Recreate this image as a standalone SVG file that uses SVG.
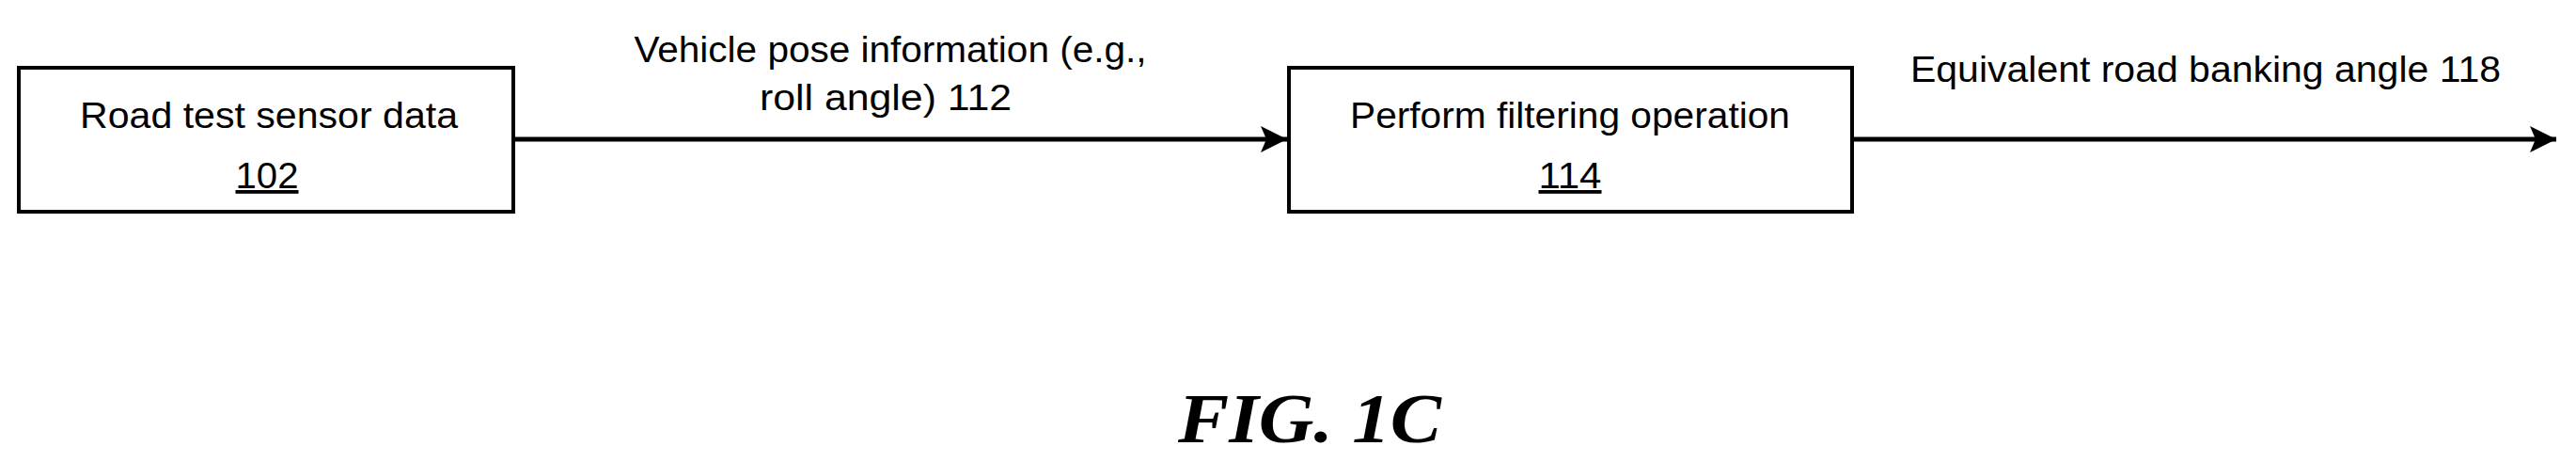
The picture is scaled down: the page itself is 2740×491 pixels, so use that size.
<svg xmlns="http://www.w3.org/2000/svg" width="2740" height="491" viewBox="0 0 2740 491">
<style>
.box{fill:#fff;stroke:#000;stroke-width:4}
.t{font-family:"Liberation Sans Narrow","Liberation Sans",Arial,sans-serif;font-size:38px;fill:#000}
.c{stroke:#000;stroke-width:5;fill:none}
</style>
<defs><marker id="ah" markerUnits="userSpaceOnUse" markerWidth="30" markerHeight="30" refX="28" refY="14" orient="auto"><path d="M0,0 L28,14 L0,28 L6,14 Z" fill="#000"/></marker></defs>
<rect width="2740" height="491" fill="#fff"/>
<g id="connectors">
<line class="c" x1="546" y1="148" x2="1369" y2="148" marker-end="url(#ah)"/>
<line class="c" x1="1970" y1="148" x2="2719" y2="148" marker-end="url(#ah)"/>
<text class="t" x="947" y="66" text-anchor="middle" textLength="545" lengthAdjust="spacingAndGlyphs">Vehicle pose information (e.g.,</text>
<text class="t" x="942" y="117" text-anchor="middle" textLength="268" lengthAdjust="spacingAndGlyphs">roll angle)  112</text>
<text class="t" x="2032" y="87" textLength="628" lengthAdjust="spacingAndGlyphs">Equivalent road banking angle 118</text>
</g>
<g id="n102">
<rect class="box" x="20" y="72" width="526" height="153"/>
<text class="t" x="286" y="136" text-anchor="middle" textLength="402" lengthAdjust="spacingAndGlyphs">Road test sensor data</text>
<text class="t" x="284" y="200" text-anchor="middle" textLength="67" lengthAdjust="spacingAndGlyphs" text-decoration="underline">102</text>
</g>
<g id="n114">
<rect class="box" x="1371" y="72" width="599" height="153"/>
<text class="t" x="1670" y="136" text-anchor="middle" textLength="468" lengthAdjust="spacingAndGlyphs">Perform filtering operation</text>
<text class="t" x="1670" y="200" text-anchor="middle" textLength="67" lengthAdjust="spacingAndGlyphs" text-decoration="underline">114</text>
</g>
<text x="1393" y="470" text-anchor="middle" font-family="Liberation Serif,serif" font-weight="bold" font-style="italic" font-size="74" textLength="280" lengthAdjust="spacingAndGlyphs">FIG. 1C</text>
</svg>
